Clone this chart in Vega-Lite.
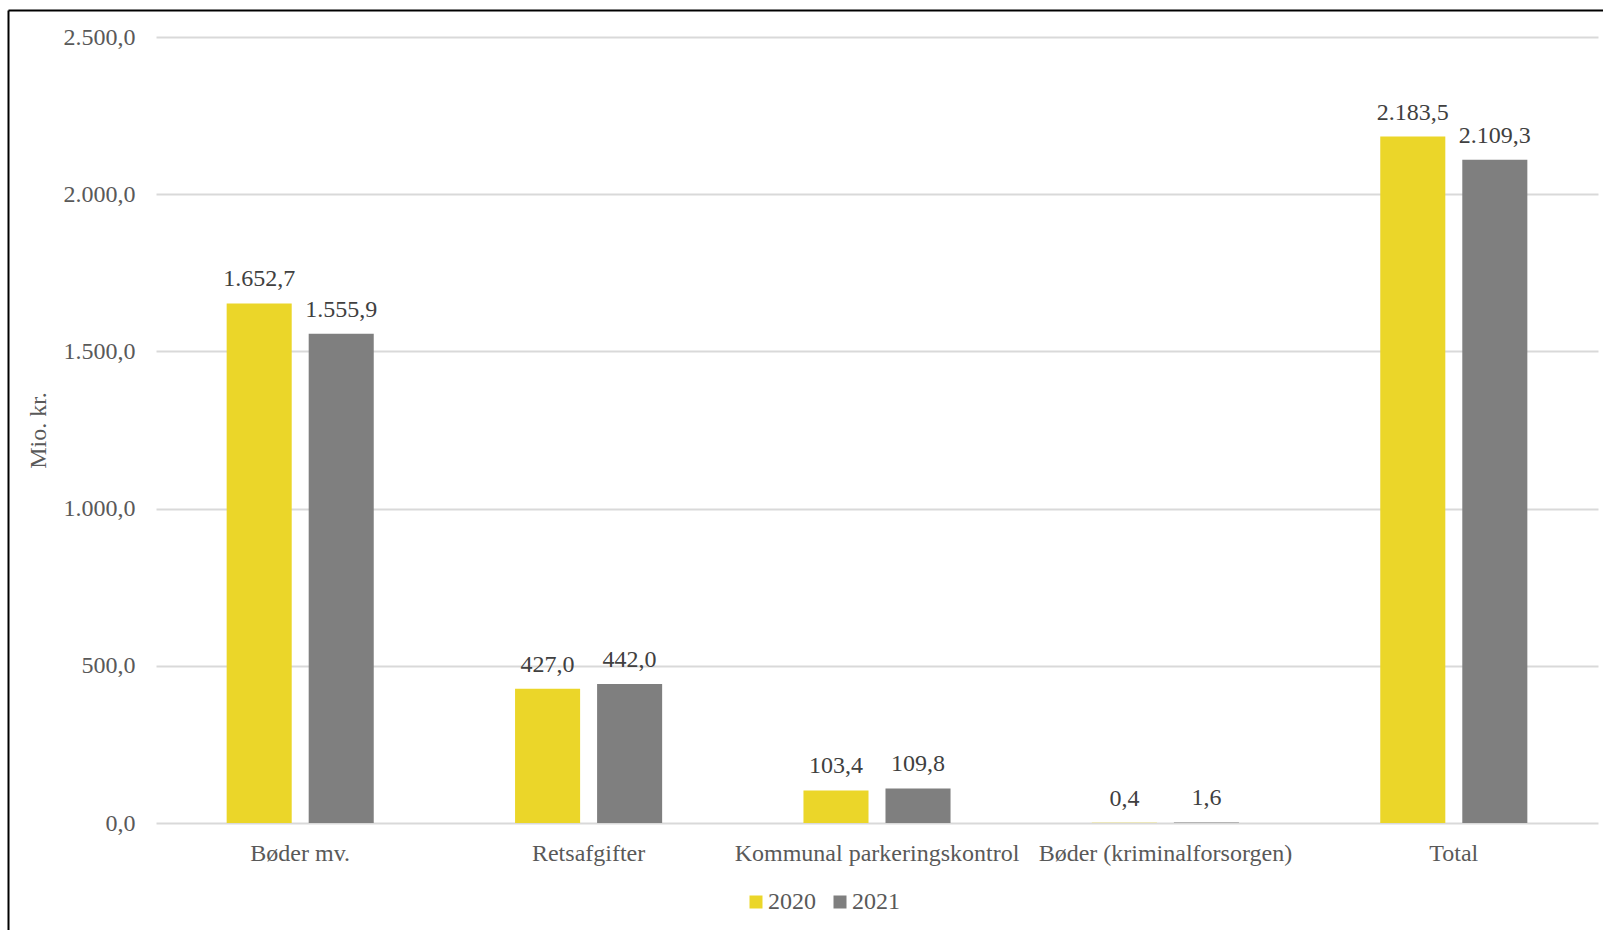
{
  "$schema": "https://vega.github.io/schema/vega-lite/v6.json",
  "autosize": {"type": "none"},
  "width": 1442,
  "height": 786,
  "padding": {"left": 156, "top": 37, "right": 5, "bottom": 107},
  "background": "#ffffff",
  "config": {
    "locale": {"number": {"decimal": ",", "thousands": ".", "grouping": [3], "currency": ["", " kr."]}},
    "font": "Liberation Serif",
    "view": {"stroke": null},
    "axis": {"labelFont": "Liberation Serif", "titleFont": "Liberation Serif"},
    "legend": {"labelFont": "Liberation Serif"},
    "text": {"font": "Liberation Serif"}
  },
  "data": {
    "values": [
      {"kategori": "Bøder mv.", "aar": "2020", "value": 1652.7},
      {"kategori": "Bøder mv.", "aar": "2021", "value": 1555.9},
      {"kategori": "Retsafgifter", "aar": "2020", "value": 427.0},
      {"kategori": "Retsafgifter", "aar": "2021", "value": 442.0},
      {"kategori": "Kommunal parkeringskontrol", "aar": "2020", "value": 103.4},
      {"kategori": "Kommunal parkeringskontrol", "aar": "2021", "value": 109.8},
      {"kategori": "Bøder (kriminalforsorgen)", "aar": "2020", "value": 0.4},
      {"kategori": "Bøder (kriminalforsorgen)", "aar": "2021", "value": 1.6},
      {"kategori": "Total", "aar": "2020", "value": 2183.5},
      {"kategori": "Total", "aar": "2021", "value": 2109.3}
    ]
  },
  "resolve": {"scale": {"x": "independent", "y": "independent"}, "axis": {"x": "independent", "y": "independent"}},
  "layer": [
    {
      "encoding": {
        "x": {
          "field": "kategori", "type": "nominal", "sort": null,
          "scale": {"paddingInner": 0.49, "paddingOuter": 0.245},
          "axis": {
            "title": null, "domain": false, "ticks": false, "grid": false,
            "labelAngle": 0, "labelFontSize": 24, "labelColor": "#595959",
            "labelPadding": 18, "labelOverlap": false, "labelLimit": 0, "labelBaseline": "top"
          }
        },
        "xOffset": {"field": "aar", "type": "nominal", "scale": {"paddingInner": 0.207, "paddingOuter": 0}},
        "y": {
          "field": "value", "type": "quantitative",
          "scale": {"domain": [0, 2500], "nice": false},
          "axis": {
            "title": "Mio. kr.", "titleFontSize": 24, "titleColor": "#595959", "titleFontWeight": "normal",
            "titlePadding": 13,
            "values": [0, 500, 1000, 1500, 2000, 2500], "format": ",.1f",
            "labelFontSize": 24, "labelColor": "#595959", "labelPadding": 21,
            "domain": false, "ticks": false, "grid": true, "gridColor": "#d9d9d9", "gridWidth": 2
          }
        }
      },
      "layer": [
        {
          "mark": {"type": "bar"},
          "encoding": {
            "color": {
              "field": "aar", "type": "nominal",
              "scale": {"domain": ["2020", "2021"], "range": ["#ebd629", "#7f7f7f"]},
              "legend": {
                "title": null, "orient": "none", "direction": "horizontal",
                "legendX": 588, "legendY": 853, "padding": 0,
                "symbolType": "square", "symbolSize": 169, "symbolStrokeWidth": 0,
                "labelFontSize": 24, "labelColor": "#595959", "labelOffset": 0, "columnPadding": 12
              }
            }
          }
        },
        {
          "mark": {"type": "text", "baseline": "alphabetic", "dy": -17, "fontSize": 24, "color": "#404040", "font": "Liberation Serif"},
          "encoding": {
            "text": {"field": "value", "type": "quantitative", "format": ",.1f"}
          }
        }
      ]
    },
    {
      "mark": {"type": "point", "opacity": 0},
      "encoding": {
        "x": {
          "field": "value", "type": "quantitative",
          "scale": {"domain": [0, 1], "range": [-148, 1470], "nice": false, "zero": false},
          "axis": {"orient": "top", "offset": 27, "title": null, "labels": false, "ticks": false, "grid": false,
                   "domain": true, "domainColor": "#000000", "domainWidth": 2}
        },
        "y": {
          "field": "value", "type": "quantitative",
          "scale": {"domain": [0, 1], "range": [900, -27], "nice": false, "zero": false},
          "axis": {"orient": "left", "offset": 148, "title": null, "labels": false, "ticks": false, "grid": false,
                   "domain": true, "domainColor": "#000000", "domainWidth": 2}
        }
      }
    }
  ]
}
